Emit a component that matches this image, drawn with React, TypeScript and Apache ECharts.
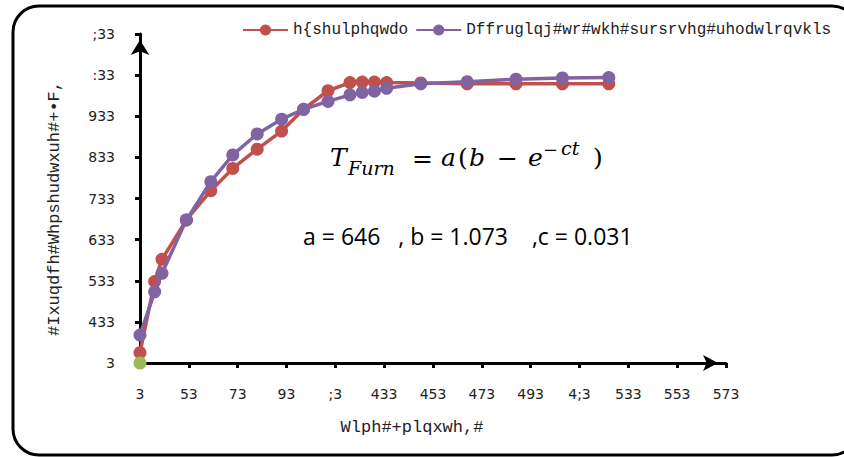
import React, { useEffect, useRef } from "react";
import * as echarts from "echarts";

const seriesNames = ["h{shulphqwdo", "Dffruglqj#wr#wkh#sursrvhg#uhodwlrqvkls"];
const timeMin = [0, 6, 9, 19, 29, 38, 48, 58, 67, 77, 86, 91, 96, 101, 115, 134, 154, 173, 192];
const experimental = [25, 198, 252, 348, 419, 473, 520, 564, 617, 662, 682, 683, 683, 682, 681, 679, 679, 679, 679];
const proposed = [68, 173, 218, 348, 441, 506, 557, 593, 617, 636, 652, 658, 661, 668, 679, 684, 690, 693, 694];
const originPoint = [[0, 0]];
const xTickLabels = ["3", "53", "73", "93", ";3", "433", "453", "473", "493", "4;3", "533", "553", "573"];
const yTickLabels = ["3", "433", "533", "633", "733", "833", "933", ":33", ";33"];
const xTitle = "Wlph#+plqxwh,#";
const yTitle = "#Ixuqdfh#Whpshudwxuh#+•F,";
const paramText = "a = 646   , b = 1.073    ,c = 0.031";

export default function App() {
  const ref = useRef<HTMLDivElement>(null);
  useEffect(() => {
    if (!ref.current) return;
    const chart = echarts.init(ref.current, null, { renderer: "svg" });
    const eqFont = (size: number, italic: boolean) =>
      `${italic ? "italic " : ""}${size}px "DejaVu Serif"`;
    const eq = (text: string, x: number, y: number, size: number, italic: boolean) => ({
      type: "text",
      style: { text, x, y, font: eqFont(size, italic), fill: "#000", textAlign: "left", textVerticalAlign: "middle" },
    });
    chart.setOption({
      animation: false,
      backgroundColor: "#fff",
      color: ["#c0504d", "#8064a2", "#9bbb59"],
      legend: {
        data: seriesNames,
        left: 242,
        top: 22,
        padding: 0,
        itemWidth: 45,
        itemHeight: 14,
        itemGap: 7,
        textStyle: { fontFamily: "Liberation Mono", fontSize: 16, color: "#222" },
      },
      grid: { left: 140, right: 118, top: 34, bottom: 94, containLabel: false },
      xAxis: {
        type: "value",
        min: 0,
        max: 240,
        interval: 20,
        splitLine: { show: false },
        axisLine: {
          show: true,
          lineStyle: { color: "#000", width: 3 },
          symbol: ["none", "arrow"],
          symbolSize: [12, 15],
          symbolOffset: [0, -8],
        },
        axisTick: { show: true, length: 5, lineStyle: { color: "#000", width: 3 } },
        axisLabel: {
          margin: 24,
          fontFamily: "DejaVu Sans",
          fontSize: 14,
          color: "#222",
          formatter: (v: number) => xTickLabels[Math.round(v / 20)] ?? "",
        },
        name: xTitle,
        nameLocation: "middle",
        nameGap: 56,
        nameTextStyle: { fontFamily: "Liberation Mono", fontSize: 17, color: "#222", padding: [0, 42, 0, 0] },
      },
      yAxis: {
        type: "value",
        min: 0,
        max: 800,
        interval: 100,
        splitLine: { show: false },
        axisLine: {
          show: true,
          lineStyle: { color: "#000", width: 3 },
          symbol: ["none", "arrow"],
          symbolSize: [14, 15],
          symbolOffset: [0, -6],
        },
        axisTick: { show: true, length: 5, lineStyle: { color: "#000", width: 3 } },
        axisLabel: {
          margin: 25,
          fontFamily: "DejaVu Sans",
          fontSize: 14,
          color: "#222",
          formatter: (v: number) => yTickLabels[Math.round(v / 100)] ?? "",
        },
        name: yTitle,
        nameLocation: "middle",
        nameGap: 77,
        nameTextStyle: { fontFamily: "Liberation Mono", fontSize: 17, color: "#222", padding: [0, 20, 0, 0] },
      },
      series: [
        {
          name: seriesNames[0],
          type: "line",
          data: timeMin.map((t, i) => [t, experimental[i]]),
          symbol: "circle",
          symbolSize: 13,
          lineStyle: { width: 3.5, color: "#c0504d" },
          itemStyle: { color: "#c0504d" },
          clip: false,
          z: 3,
        },
        {
          name: seriesNames[1],
          type: "line",
          data: timeMin.map((t, i) => [t, proposed[i]]),
          symbol: "circle",
          symbolSize: 13,
          lineStyle: { width: 3.5, color: "#8064a2" },
          itemStyle: { color: "#8064a2" },
          clip: false,
          z: 4,
        },
        {
          name: "origin",
          type: "scatter",
          data: originPoint,
          symbol: "circle",
          symbolSize: 13,
          itemStyle: { color: "#9bbb59", opacity: 1 },
          clip: false,
          z: 10,
        },
      ],
      graphic: [
        {
          type: "rect",
          shape: { x: 13, y: 6, width: 845, height: 449, r: 26 },
          style: { fill: "none", stroke: "#000", lineWidth: 3 },
          z: 100,
        },
        eq("T", 330, 157, 25, true),
        eq("Furn", 348, 168, 19, true),
        eq("=", 412, 158, 25, false),
        eq("a", 441, 157, 25, true),
        eq("(", 458, 157, 25, false),
        eq("b", 469, 157, 25, true),
        eq("−", 497, 158, 25, false),
        eq("e", 528, 157, 25, true),
        eq("−", 543, 149, 18, false),
        eq("ct", 561, 148, 19, true),
        eq(")", 593, 157, 25, false),
        {
          type: "text",
          style: {
            text: paramText,
            x: 303,
            y: 236,
            font: '23px "Open Sans"',
            fill: "#000",
            textAlign: "left",
            textVerticalAlign: "middle",
          },
        },
      ],
    });
    return () => chart.dispose();
  }, []);
  return (
    <div
      ref={ref}
      style={{ position: "fixed", left: 0, top: 0, width: 844, height: 457, background: "#fff" }}
    />
  );
}
